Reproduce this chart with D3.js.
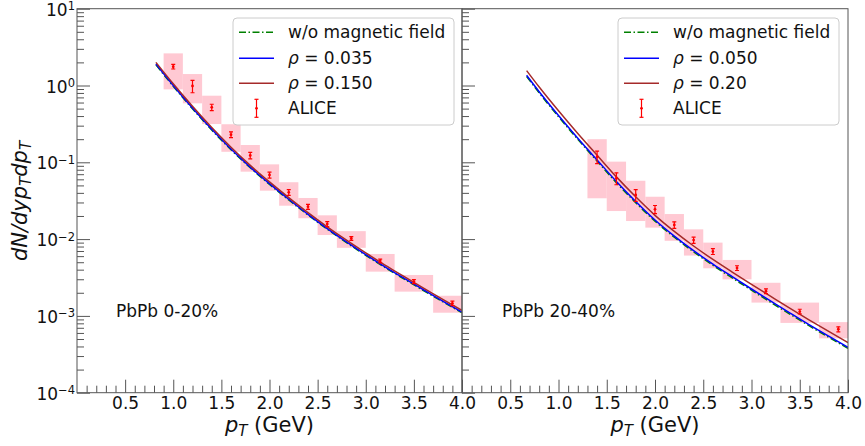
<!DOCTYPE html>
<html>
<head>
<meta charset="utf-8">
<script src="https://cdn.jsdelivr.net/npm/d3@7"></script>
<style>
  body { margin: 0; background: #fff; }
  svg { font-family: "DejaVu Sans", sans-serif; }
</style>
</head>
<body>
<svg id="chart" width="865" height="446"></svg>
<script>
// ---- data: PbPb 0-20% ----
const pt_curve_L = [0.82, 1.0, 1.2, 1.4, 1.6, 1.8, 2.0, 2.2, 2.4, 2.6, 2.8, 3.0, 3.2, 3.4, 3.6, 3.8, 4.0];
const noB_L   = [1.86, 0.978, 0.498, 0.263, 0.146, 0.0848, 0.0516, 0.0323, 0.0206, 0.01344, 0.0090, 0.00615, 0.00427, 0.00301, 0.00214, 0.00153, 0.0011];
const rhoLo_L = [1.90, 1.0, 0.508, 0.269, 0.149, 0.0866, 0.0527, 0.033, 0.021, 0.01373, 0.0092, 0.00628, 0.00436, 0.00308, 0.00219, 0.00156, 0.00112];
const rhoHi_L = [2.0, 1.052, 0.535, 0.283, 0.157, 0.0912, 0.0555, 0.0347, 0.0221, 0.01445, 0.00968, 0.00661, 0.00459, 0.00324, 0.0023, 0.00164, 0.00118];

const alice_pt_L    = [1.0, 1.2, 1.4, 1.6, 1.8, 2.0, 2.2, 2.4, 2.6, 2.85, 3.15, 3.5, 3.9];
const alice_binLo_L = [0.9, 1.1, 1.3, 1.5, 1.7, 1.9, 2.1, 2.3, 2.5, 2.7, 3.0, 3.3, 3.7];
const alice_binHi_L = [1.1, 1.3, 1.5, 1.7, 1.9, 2.1, 2.3, 2.5, 2.7, 3.0, 3.3, 3.7, 4.1];
const alice_val_L   = [1.76, 0.985, 0.52, 0.229, 0.123, 0.0684, 0.0406, 0.0264, 0.0157, 0.0102, 0.0052, 0.0028, 0.00146];
const alice_stat_L  = [0.12, 0.18, 0.05, 0.02, 0.012, 0.006, 0.0035, 0.002, 0.0012, 0.0006, 0.0003, 0.00017, 0.0001];
const alice_sysHi_L = [2.62, 1.41, 0.736, 0.313, 0.168, 0.094, 0.055, 0.0343, 0.0204, 0.0127, 0.0064, 0.00341, 0.00183];
const alice_sysLo_L = [0.89, 0.586, 0.315, 0.137, 0.0755, 0.0427, 0.0272, 0.0187, 0.0113, 0.0077, 0.00377, 0.00207, 0.0011];

// ---- data: PbPb 20-40% ----
const pt_curve_R = [0.67, 0.8, 1.0, 1.2, 1.4, 1.6, 1.8, 2.0, 2.2, 2.4, 2.6, 2.8, 3.0, 3.2, 3.4, 3.6, 3.8, 4.0];
const noB_R   = [1.31, 0.802, 0.393, 0.199, 0.1038, 0.0543, 0.0298, 0.01714, 0.01058, 0.00683, 0.00456, 0.00312, 0.00216, 0.0015, 0.00105, 0.00074, 0.000527, 0.000378];
const rhoLo_R = [1.357, 0.831, 0.407, 0.206, 0.1075, 0.0562, 0.0309, 0.01775, 0.01096, 0.00707, 0.00472, 0.00324, 0.00224, 0.00156, 0.00109, 0.000766, 0.000545, 0.00039];
const rhoHi_R = [1.56, 0.955, 0.468, 0.237, 0.1236, 0.0646, 0.0355, 0.0204, 0.0126, 0.00813, 0.00543, 0.00372, 0.00257, 0.00179, 0.00125, 0.00088, 0.000627, 0.00045];

const alice_pt_R    = [1.4, 1.6, 1.8, 2.0, 2.2, 2.4, 2.6, 2.85, 3.15, 3.5, 3.9];
const alice_binLo_R = [1.3, 1.5, 1.7, 1.9, 2.1, 2.3, 2.5, 2.7, 3.0, 3.3, 3.7];
const alice_binHi_R = [1.5, 1.7, 1.9, 2.1, 2.3, 2.5, 2.7, 3.0, 3.3, 3.7, 4.1];
const alice_val_R   = [0.118, 0.062, 0.0375, 0.0244, 0.0153, 0.0097, 0.0069, 0.0042, 0.0021, 0.00114, 0.00067];
const alice_stat_R  = [0.022, 0.011, 0.0065, 0.003, 0.0015, 0.0009, 0.0006, 0.0003, 0.00015, 0.00008, 0.00005];
const alice_sysHi_R = [0.20, 0.102, 0.0575, 0.0356, 0.0212, 0.0134, 0.0090, 0.00535, 0.0027, 0.00149, 0.00083];
const alice_sysLo_R = [0.034, 0.0232, 0.0172, 0.0141, 0.0095, 0.0061, 0.00417, 0.00299, 0.00149, 0.00081, 0.00051];

// ---- tick labels ----
const x_ticks = [0.5, 1.0, 1.5, 2.0, 2.5, 3.0, 3.5, 4.0];
const y_ticks = [1e-4, 1e-3, 1e-2, 1e-1, 1e0, 1e1];
const y_exps  = ['−4', '−3', '−2', '−1', '0', '1'];

const top_y = 8.7, bottom_y = 392.7;
const frame_color = '#555';
const col_green = 'green', col_blue = 'blue', col_red = '#a52a2a';

const svg = d3.select('#chart');
const y = d3.scaleLog().domain([1e-4, 10]).range([bottom_y, top_y]);

// minor ticks
const x_minor = d3.range(1, 40).map(d => d / 10).filter(d => Math.abs(d * 2 - Math.round(d * 2)) > 1e-6);
const y_minor = [];
[-4, -3, -2, -1, 0].forEach(e => { for (let m = 2; m <= 9; m++) y_minor.push(m * Math.pow(10, e)); });

function drawPanel(p) {
  const x = d3.scaleLinear().domain([0, 4]).range([p.x0, p.x1]);
  const g = svg.append('g');

  svg.append('clipPath').attr('id', 'clip' + p.id)
     .append('rect')
       .attr('x', p.x0).attr('y', top_y)
       .attr('width', p.x1 - p.x0).attr('height', bottom_y - top_y);

  const plot = g.append('g').attr('clip-path', `url(#clip${p.id})`);

  // systematic boxes
  plot.selectAll('rect.sys')
      .data(p.alice_pt)
      .enter()
        .append('rect')
        .attr('class', 'sys')
        .attr('x', (d, i) => x(p.binLo[i]))
        .attr('width', (d, i) => x(p.binHi[i]) - x(p.binLo[i]))
        .attr('y', (d, i) => y(p.sysHi[i]))
        .attr('height', (d, i) => y(p.sysLo[i]) - y(p.sysHi[i]))
        .attr('fill', 'pink')
        .attr('opacity', 0.85);

  // model curves
  const line = d3.line()
      .x(d => x(d[0]))
      .y(d => y(d[1]))
      .curve(d3.curveMonotoneX);

  const curves = [
    { vals: p.noB, color: col_green, dash: '7,2.5,1.5,2.5' },
    { vals: p.rhoLo, color: col_blue, dash: null },
    { vals: p.rhoHi, color: col_red, dash: null }
  ];
  curves.forEach(c => {
    plot.append('path')
        .datum(p.pt.map((t, i) => [t, c.vals[i]]))
        .attr('d', line)
        .attr('fill', 'none')
        .attr('stroke', c.color)
        .attr('stroke-width', 1.5)
        .attr('stroke-dasharray', c.dash);
  });

  // ALICE points with stat errors
  const eb = plot.selectAll('g.eb')
      .data(p.alice_pt)
      .enter()
        .append('g')
        .attr('class', 'eb');
  eb.append('line')
      .attr('x1', d => x(d)).attr('x2', d => x(d))
      .attr('y1', (d, i) => y(p.val[i] + p.stat[i]))
      .attr('y2', (d, i) => y(p.val[i] - p.stat[i]))
      .attr('stroke', 'red').attr('stroke-width', 1.2);
  [1, -1].forEach(s => {
    eb.append('line')
        .attr('x1', d => x(d) - 2).attr('x2', d => x(d) + 2)
        .attr('y1', (d, i) => y(p.val[i] + s * p.stat[i]))
        .attr('y2', (d, i) => y(p.val[i] + s * p.stat[i]))
        .attr('stroke', 'red').attr('stroke-width', 1.2);
  });
  eb.append('circle')
      .attr('cx', d => x(d))
      .attr('cy', (d, i) => y(p.val[i]))
      .attr('r', 1.4)
      .attr('fill', 'red');

  // axes (ticks point inward)
  const xa = g.append('g').attr('transform', `translate(0,${bottom_y})`)
      .call(d3.axisBottom(x).tickValues(x_ticks).tickSizeInner(-13).tickSizeOuter(0)
              .tickPadding(4).tickFormat(d3.format('.1f')));
  const xm = g.append('g').attr('transform', `translate(0,${bottom_y})`)
      .call(d3.axisBottom(x).tickValues(x_minor).tickSizeInner(-7).tickSizeOuter(0).tickFormat(''));
  const ya = g.append('g').attr('transform', `translate(${p.x0},0)`)
      .call(d3.axisLeft(y).tickValues(y_ticks).tickSizeInner(-13).tickSizeOuter(0).tickFormat(''));
  const ym = g.append('g').attr('transform', `translate(${p.x0},0)`)
      .call(d3.axisLeft(y).tickValues(y_minor).tickSizeInner(-7).tickSizeOuter(0).tickFormat(''));

  [xa, xm, ya, ym].forEach(a => {
    a.select('.domain').remove();
    a.selectAll('.tick line').attr('stroke', frame_color).attr('stroke-width', 1);
  });
  xa.selectAll('.tick text')
      .attr('font-size', 17)
      .attr('fill', '#111')
      .attr('font-family', '"DejaVu Sans", sans-serif');

  if (p.yLabels) {
    const yl = g.append('g')
        .selectAll('text')
        .data(y_ticks)
        .enter()
          .append('text')
          .attr('x', p.x0 - 2)
          .attr('y', d => y(d) + 7)
          .attr('text-anchor', 'end')
          .attr('font-size', 17)
          .attr('fill', '#111');
    yl.append('tspan').text('10');
    yl.append('tspan')
        .attr('dy', -5.5)
        .attr('font-size', 11.5)
        .text((d, i) => y_exps[i]);
  }

  // frame
  g.append('rect')
      .attr('x', p.x0).attr('y', top_y)
      .attr('width', p.x1 - p.x0).attr('height', bottom_y - top_y)
      .attr('fill', 'none')
      .attr('stroke', frame_color)
      .attr('stroke-width', 1);

  // x label
  const xl = g.append('text')
      .attr('x', (p.x0 + p.x1) / 2)
      .attr('y', 432)
      .attr('text-anchor', 'middle')
      .attr('font-size', 21)
      .attr('fill', '#111');
  xl.append('tspan').attr('font-style', 'italic').text('p');
  xl.append('tspan').attr('font-style', 'italic').attr('font-size', 15).attr('dy', 4).text('T');
  xl.append('tspan').attr('dy', -4).text(' (GeV)');

  // centrality annotation
  g.append('text')
      .attr('x', p.x0 + p.noteDx)
      .attr('y', 317)
      .attr('font-size', 17)
      .attr('fill', '#111')
      .text(p.note);

  // legend
  const lg = g.append('g').attr('transform', `translate(${p.legX},18)`);
  lg.append('rect')
      .attr('width', 221).attr('height', 107)
      .attr('rx', 4)
      .attr('fill', 'white').attr('fill-opacity', 0.8)
      .attr('stroke', '#ccc');
  const rows = [32.3, 58.3, 83.3, 108.3].map(v => v - 18);
  curves.forEach((c, i) => {
    lg.append('line')
        .attr('x1', 6).attr('x2', 41)
        .attr('y1', rows[i]).attr('y2', rows[i])
        .attr('stroke', c.color).attr('stroke-width', 1.5)
        .attr('stroke-dasharray', c.dash);
  });
  lg.append('line')
      .attr('x1', 23.5).attr('x2', 23.5)
      .attr('y1', rows[3] - 9).attr('y2', rows[3] + 9)
      .attr('stroke', 'red').attr('stroke-width', 1.2);
  [-9, 9].forEach(o => {
    lg.append('line')
        .attr('x1', 21.5).attr('x2', 25.5)
        .attr('y1', rows[3] + o).attr('y2', rows[3] + o)
        .attr('stroke', 'red').attr('stroke-width', 1.2);
  });
  lg.append('circle').attr('cx', 23.5).attr('cy', rows[3]).attr('r', 1.4).attr('fill', 'red');

  const tx = 55;
  lg.append('text').attr('x', tx).attr('y', rows[0] + 5.5)
      .attr('font-size', 17).attr('fill', '#111')
      .text('w/o magnetic field');
  [p.rhoLoLabel, p.rhoHiLabel].forEach((r, i) => {
    const t = lg.append('text').attr('x', tx).attr('y', rows[i + 1] + 5.5)
        .attr('font-size', 17).attr('fill', '#111');
    t.append('tspan').attr('font-style', 'italic').text('ρ');
    t.append('tspan').text(' = ' + r);
  });
  lg.append('text').attr('x', tx).attr('y', rows[3] + 5.5)
      .attr('font-size', 17).attr('fill', '#111')
      .text('ALICE');
}

drawPanel({
  id: 'L', x0: 77, x1: 462, yLabels: true,
  pt: pt_curve_L, noB: noB_L, rhoLo: rhoLo_L, rhoHi: rhoHi_L,
  alice_pt: alice_pt_L, binLo: alice_binLo_L, binHi: alice_binHi_L,
  val: alice_val_L, stat: alice_stat_L, sysHi: alice_sysHi_L, sysLo: alice_sysLo_L,
  rhoLoLabel: '0.035', rhoHiLabel: '0.150',
  note: 'PbPb 0-20%', noteDx: 39, legX: 233
});

drawPanel({
  id: 'R', x0: 462, x1: 848, yLabels: false,
  pt: pt_curve_R, noB: noB_R, rhoLo: rhoLo_R, rhoHi: rhoHi_R,
  alice_pt: alice_pt_R, binLo: alice_binLo_R, binHi: alice_binHi_R,
  val: alice_val_R, stat: alice_stat_R, sysHi: alice_sysHi_R, sysLo: alice_sysLo_R,
  rhoLoLabel: '0.050', rhoHiLabel: '0.20',
  note: 'PbPb 20-40%', noteDx: 40, legX: 618
});

// y axis label
const ylab = svg.append('text')
    .attr('transform', 'translate(27,201) rotate(-90)')
    .attr('text-anchor', 'middle')
    .attr('font-size', 21)
    .attr('font-style', 'italic')
    .attr('fill', '#111');
ylab.append('tspan').text('dN/dyp');
ylab.append('tspan').attr('font-size', 15).attr('dy', 4).text('T');
ylab.append('tspan').attr('dy', -4).text('dp');
ylab.append('tspan').attr('font-size', 15).attr('dy', 4).text('T');
</script>
</body>
</html>
